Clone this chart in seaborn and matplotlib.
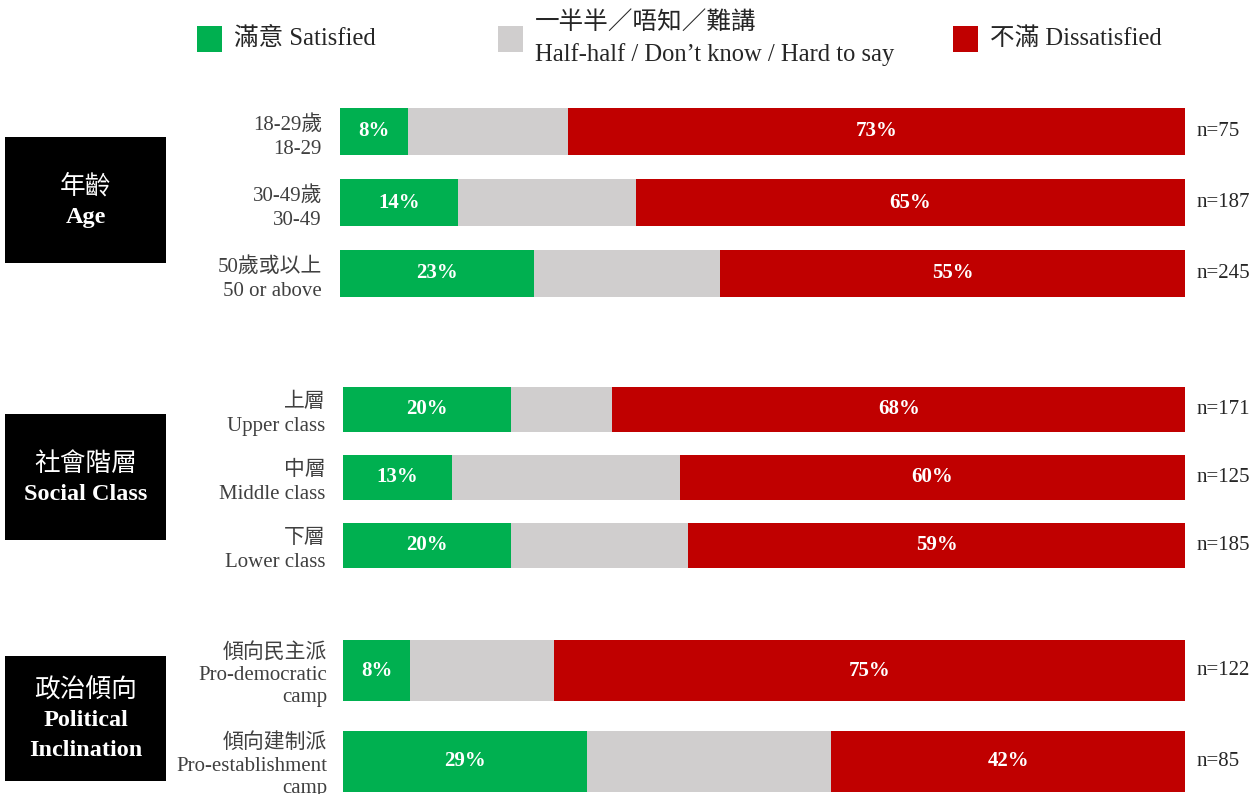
import matplotlib
matplotlib.use("Agg")
import matplotlib.pyplot as plt
from matplotlib.patches import Rectangle
import pandas as pd
import seaborn as sns

sns.set_style("white")
FONT = ["Liberation Serif", "Noto Sans CJK TC"]
plt.rcParams["font.family"] = FONT

# ---- data -------------------------------------------------------------
age_labels = ["18-29歲\n18-29", "30-49歲\n30-49", "50歲或以上\n50 or above"]
age_sat = [8, 14, 23]
age_neu = [19, 21, 22]
age_dis = [73, 65, 55]
age_n = [75, 187, 245]

class_labels = ["上層\nUpper class", "中層\nMiddle class", "下層\nLower class"]
class_sat = [20, 13, 20]
class_neu = [12, 27, 21]
class_dis = [68, 60, 59]
class_n = [171, 125, 185]

pol_labels = ["傾向民主派\nPro-democratic\ncamp", "傾向建制派\nPro-establishment\ncamp"]
pol_sat = [8, 29]
pol_neu = [17, 29]
pol_dis = [75, 42]
pol_n = [122, 85]

legend_labels = ["滿意 Satisfied",
                 "一半半／唔知／難講\nHalf-half / Don’t know / Hard to say",
                 "不滿 Dissatisfied"]

GREEN, GREY, RED = "#00B050", "#D0CECE", "#C00000"
TEXT = "#404040"

W, H = 1255, 794
fig = plt.figure(figsize=(W / 100, H / 100), dpi=100)


def fx(x):
    return x / W


def fy(y):
    return 1 - y / H


def px_axes(left, top, right, bottom):
    return fig.add_axes([fx(left), fy(bottom), (right - left) / W, (bottom - top) / H])


def draw_group(ax, labels, sat, neu, dis, ns, bar_w, spacing, pad):
    df = pd.DataFrame({"label": labels, "sat": sat, "neu": neu, "dis": dis, "n": ns})
    df["sat_neu"] = df["sat"] + df["neu"]
    df["total"] = df["sat_neu"] + df["dis"]
    for col, color in [("total", RED), ("sat_neu", GREY), ("sat", GREEN)]:
        sns.barplot(data=df, x=col, y="label", orient="h", color=color,
                    width=bar_w, linewidth=0, saturation=1, ax=ax, errorbar=None)
    for i, row in df.iterrows():
        ax.text(row["sat"] / 2, i, f"{row['sat']}%", ha="center", va="center",
                color="white", fontsize=15, fontweight="bold")
        ax.text(row["sat_neu"] + row["dis"] / 2, i, f"{row['dis']}%", ha="center",
                va="center", color="white", fontsize=15, fontweight="bold")
        ax.text(1.014, i, f"n={row['n']}", transform=ax.get_yaxis_transform(),
                ha="left", va="center", fontsize=15, color="#262626")
    ax.set_xlim(0, 100)
    ax.set_ylim(len(df) - 0.5, -0.5)
    ax.set_xlabel("")
    ax.set_ylabel("")
    ax.set_xticks([])
    ax.tick_params(axis="y", length=0, pad=pad, labelsize=15, labelcolor=TEXT)
    for t in ax.get_yticklabels():
        t.set_multialignment("right")
        t.set_linespacing(spacing)
    sns.despine(ax=ax, left=True, bottom=True)


ax1 = px_axes(340, 96, 1185, 309)
draw_group(ax1, age_labels, age_sat, age_neu, age_dis, age_n, 0.66, 1.38, 13)
ax2 = px_axes(343, 375.5, 1185, 579.5)
draw_group(ax2, class_labels, class_sat, class_neu, class_dis, class_n, 0.66, 1.38, 12.5)
ax3 = px_axes(343, 625, 1185, 807)
draw_group(ax3, pol_labels, pol_sat, pol_neu, pol_dis, pol_n, 0.67, 1.25, 11.5)

# ---- group title boxes ---------------------------------------------------
def title_box(top, bottom, zh, en_lines, zh_y, en_ys):
    fig.add_artist(Rectangle((fx(5), fy(bottom)), (166 - 5) / W, (bottom - top) / H,
                             transform=fig.transFigure, facecolor="black",
                             edgecolor="none"))
    fig.text(fx(85.5), fy(zh_y), zh, ha="center", va="center", color="white",
             fontsize=18.5)
    for line, y in zip(en_lines, en_ys):
        fig.text(fx(85.5), fy(y), line, ha="center", va="center", color="white",
                 fontsize=17.5, fontweight="bold")


title_box(137, 263, "年齡", ["Age"], 186, [217])
title_box(414, 540, "社會階層", ["Social Class"], 464, [494])
title_box(656, 781, "政治傾向", ["Political", "Inclination"], 690, [721, 750])

# ---- legend ----------------------------------------------------------------
legend_x = [197, 498, 953]
for x, color, label in zip(legend_x, [GREEN, GREY, RED], legend_labels):
    fig.add_artist(Rectangle((fx(x), fy(52)), 25 / W, 26 / H,
                             transform=fig.transFigure, facecolor=color,
                             edgecolor="none"))
    fig.text(fx(x + 37), fy(38.5), label, ha="left", va="center", color="#262626",
             fontsize=17.7, linespacing=1.55)

fig.savefig("out.png", dpi=100)
